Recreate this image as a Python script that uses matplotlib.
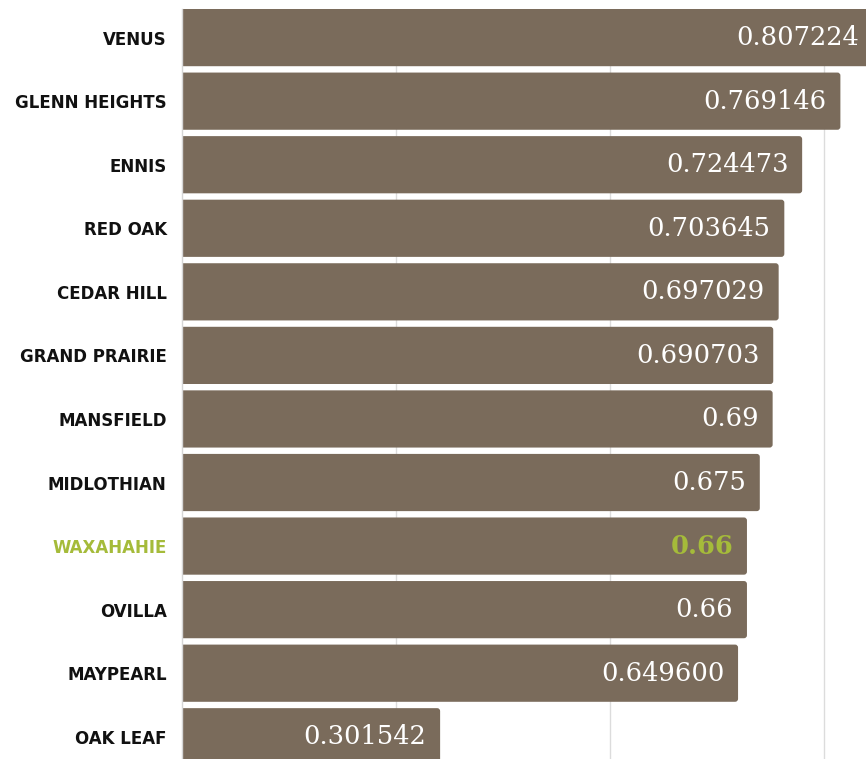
import matplotlib
matplotlib.use("Agg")
import matplotlib.pyplot as plt
from matplotlib.patches import FancyBboxPatch

cities = ["VENUS", "GLENN HEIGHTS", "ENNIS", "RED OAK", "CEDAR HILL",
          "GRAND PRAIRIE", "MANSFIELD", "MIDLOTHIAN", "WAXAHAHIE", "OVILLA",
          "MAYPEARL", "OAK LEAF"]
values = [0.807224, 0.769146, 0.724473, 0.703645, 0.697029, 0.690703,
          0.69, 0.675, 0.66, 0.66, 0.6496, 0.301542]
value_labels = ["0.807224", "0.769146", "0.724473", "0.703645", "0.697029",
                "0.690703", "0.69", "0.675", "0.66", "0.66", "0.649600",
                "0.301542"]
highlight = "WAXAHAHIE"

BAR = "#7a6b5b"
GREEN = "#a5bb3a"
GRID = "#dcdcdc"

fig = plt.figure(figsize=(8.66, 7.59), dpi=100)
ax = fig.add_axes([182 / 866, 0.0, 1 - 182 / 866, 1 - 9 / 759])

ax.set_xlim(0, 684 / 856)
ax.set_ylim(11.35, -0.45)

pos = list(range(len(cities)))
bars = ax.barh(pos, values, height=0.9, color=BAR, zorder=2)

# swap the plain rectangles for ones with softly rounded right corners
r = 0.0035
for rect in bars.patches:
    x, y = rect.get_x(), rect.get_y()
    w, h = rect.get_width(), rect.get_height()
    rect.set_visible(False)
    ax.add_patch(FancyBboxPatch((x - r * 2, y), w + r * 2, h,
                                boxstyle=f"round,pad=0,rounding_size={r}",
                                mutation_aspect=13.4, facecolor=BAR,
                                edgecolor="none", zorder=2))

ax.set_xticks([0.25, 0.5, 0.75])
ax.set_xticklabels([])
ax.tick_params(axis="x", length=0)
ax.grid(axis="x", color=GRID, linewidth=1.0, zorder=0)

ax.set_yticks(pos)
ax.set_yticklabels(cities)
ax.tick_params(axis="y", length=0, pad=11)
for lab in ax.get_yticklabels():
    lab.set_fontfamily("DejaVu Sans")
    lab.set_fontweight("bold")
    lab.set_fontsize(12)
    lab.set_color(GREEN if lab.get_text() == highlight else "#111111")

for s in ["top", "right", "bottom"]:
    ax.spines[s].set_visible(False)
ax.spines["left"].set_color("#d6d6d6")
ax.spines["left"].set_linewidth(1.0)
ax.spines["left"].set_zorder(3)

for i, (v, txt) in enumerate(zip(values, value_labels)):
    hl = cities[i] == highlight
    ax.annotate(txt, xy=(v, i), xytext=(-10, 0), textcoords="offset points",
                ha="right", va="center", fontfamily="DejaVu Serif",
                fontsize=18.5, color=GREEN if hl else "white",
                fontweight="bold" if hl else "normal",
                annotation_clip=False, zorder=3)

fig.savefig("out.png", dpi=100)
